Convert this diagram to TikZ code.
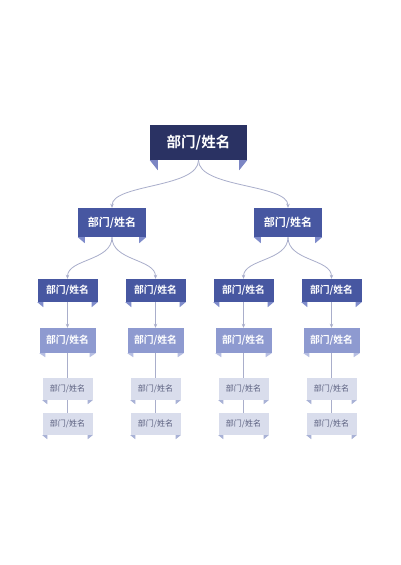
\documentclass[tikz,border=0pt]{standalone}
\usepackage{fontspec}
\setmainfont{Noto Sans CJK SC}
\newfontfamily\cjkb{Noto Sans CJK SC Bold}
\usetikzlibrary{arrows.meta,calc}
\definecolor{navy}{HTML}{2A3263}
\definecolor{navytab}{HTML}{7C86C4}
\definecolor{midblue}{HTML}{4757A1}
\definecolor{midtab}{HTML}{7F8CCB}
\definecolor{lightblue}{HTML}{8E9AD0}
\definecolor{lighttab}{HTML}{B6BEE2}
\definecolor{paleblue}{HTML}{D9DDEC}
\definecolor{paletab}{HTML}{A9B2D6}
\definecolor{paletext}{HTML}{5C6180}
\definecolor{linkc}{HTML}{A9AECB}
\newcommand{\tabs}[4]{% node, tab width, tab height, colour
  \fill[#4] (#1.south west) -- ++(#2,0) -- ++(0,#3) -- cycle;
  \fill[#4] (#1.south east) -- ++(-#2,0) -- ++(0,#3) -- cycle;}
\begin{document}
\begin{tikzpicture}[x=1pt,y=-1pt,
  lvlA/.style={fill=navy,text=white,minimum width=97pt,minimum height=35pt,inner sep=0pt,font=\cjkb\fontsize{14.5}{16}\selectfont},
  lvlB/.style={fill=midblue,text=white,minimum width=68pt,minimum height=29pt,inner sep=0pt,font=\cjkb\fontsize{11}{13}\selectfont},
  lvlC/.style={fill=midblue,text=white,minimum width=60pt,minimum height=23pt,inner sep=0pt,font=\cjkb\fontsize{9.8}{12}\selectfont},
  lvlD/.style={fill=lightblue,text=white,minimum width=56pt,minimum height=25pt,inner sep=0pt,font=\cjkb\fontsize{9.8}{12}\selectfont},
  lvlE/.style={fill=paleblue,text=paletext,minimum width=50pt,minimum height=22pt,inner sep=0pt,font=\fontsize{8}{10}\selectfont},
  link/.style={draw=linkc,line width=0.8pt},
  arr/.style={link,-{Stealth[length=4pt,width=3.5pt]}}
]
\useasboundingbox (0,0) rectangle (400,565);
\fill[white] (0,0) rectangle (400,565);
% connectors first (behind boxes)
\coordinate (dummy) at (0,0);
% nodes
\node[lvlA] (top) at (198.5,142.5) {部门/姓名};
\node[lvlB] (b1) at (112,222.5) {部门/姓名};
\node[lvlB] (b2) at (288,222.5) {部门/姓名};
\foreach \i/\x in {1/67.5,2/155.5,3/243.5,4/331.5}{
  \node[lvlC] (c\i) at (\x,290.5) {部门/姓名};
  \node[lvlD] (d\i) at (\x,340.5) {部门/姓名};
  \node[lvlE] (e\i) at (\x,389) {部门/姓名};
  \node[lvlE] (f\i) at (\x,424) {部门/姓名};
}
% tabs
\tabs{top}{8}{10}{navytab}
\tabs{b1}{7}{6}{midtab}
\tabs{b2}{7}{6}{midtab}
\foreach \i in {1,...,4}{
  \tabs{c\i}{6}{5}{midtab}
  \tabs{d\i}{6}{4}{lighttab}
  \tabs{e\i}{5}{4}{paletab}
  \tabs{f\i}{5}{4}{paletab}
}
% curved connectors
\draw[arr] (top.south) .. controls ($(top.south)+(0,28)$) and ($(b1.north)+(0,-24)$) .. (b1.north);
\draw[arr] (top.south) .. controls ($(top.south)+(0,28)$) and ($(b2.north)+(0,-24)$) .. (b2.north);
\draw[arr] (b1.south) .. controls ($(b1.south)+(0,24)$) and ($(c1.north)+(0,-20)$) .. (c1.north);
\draw[arr] (b1.south) .. controls ($(b1.south)+(0,24)$) and ($(c2.north)+(0,-20)$) .. (c2.north);
\draw[arr] (b2.south) .. controls ($(b2.south)+(0,24)$) and ($(c3.north)+(0,-20)$) .. (c3.north);
\draw[arr] (b2.south) .. controls ($(b2.south)+(0,24)$) and ($(c4.north)+(0,-20)$) .. (c4.north);
\foreach \i in {1,...,4}{
  \draw[arr] (c\i.south) -- (d\i.north);
  \draw[link] (d\i.south) -- (e\i.north);
  \draw[link] (e\i.south) -- (f\i.north);
}
\end{tikzpicture}
\end{document}
